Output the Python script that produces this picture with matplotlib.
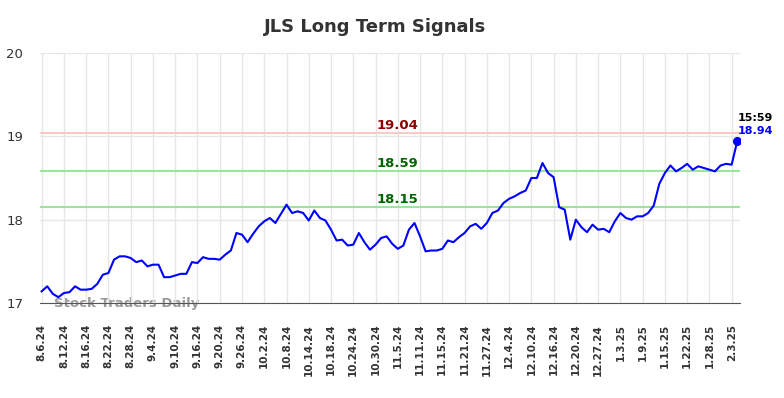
import numpy as np
import matplotlib
matplotlib.use("Agg")
import matplotlib.pyplot as plt

# closing prices, one per trading day (last one is the 15:59 quote)
prices = [17.14, 17.20, 17.11, 17.07, 17.12, 17.13, 17.20, 17.16, 17.16, 17.17,
          17.23, 17.34, 17.36, 17.52, 17.56, 17.56, 17.54, 17.49, 17.51, 17.44,
          17.46, 17.46, 17.31, 17.31, 17.33, 17.35, 17.35, 17.49, 17.48, 17.55,
          17.53, 17.53, 17.52, 17.58, 17.63, 17.84, 17.82, 17.73, 17.83, 17.92,
          17.98, 18.02, 17.96, 18.07, 18.18, 18.08, 18.10, 18.08, 17.99, 18.11,
          18.02, 17.99, 17.88, 17.75, 17.76, 17.69, 17.70, 17.84, 17.73, 17.64,
          17.70, 17.78, 17.80, 17.71, 17.65, 17.69, 17.88, 17.96, 17.80, 17.62,
          17.63, 17.63, 17.65, 17.75, 17.73, 17.79, 17.84, 17.92, 17.95, 17.89,
          17.96, 18.08, 18.11, 18.20, 18.25, 18.28, 18.32, 18.35, 18.50, 18.50,
          18.68, 18.56, 18.51, 18.15, 18.12, 17.76, 18.00, 17.91, 17.85, 17.94,
          17.88, 17.89, 17.85, 17.98, 18.08, 18.02, 18.00, 18.04, 18.04, 18.08,
          18.17, 18.43, 18.56, 18.65, 18.58, 18.62, 18.67, 18.60, 18.64, 18.62,
          18.60, 18.58, 18.65, 18.67, 18.66, 18.94]

tick_labels = ["8.6.24", "8.12.24", "8.16.24", "8.22.24", "8.28.24", "9.4.24",
               "9.10.24", "9.16.24", "9.20.24", "9.26.24", "10.2.24", "10.8.24",
               "10.14.24", "10.18.24", "10.24.24", "10.30.24", "11.5.24", "11.11.24",
               "11.15.24", "11.21.24", "11.27.24", "12.4.24", "12.10.24", "12.16.24",
               "12.20.24", "12.27.24", "1.3.25", "1.9.25", "1.15.25", "1.22.25",
               "1.28.25", "2.3.25"]
tick_step = 4

resistance = 19.04
mid_level = 18.59
support = 18.15
last_time = "15:59"

x = np.arange(len(prices))

fig = plt.figure(figsize=(7.84, 3.98), dpi=100)
ax = fig.add_axes([40/784, 1-303/398, 700/784, 250/398])

ax.plot(x, prices, color="#0000ff", lw=1.5, zorder=3)
ax.plot(x[-1], prices[-1], "o", color="#0000ff", ms=5.5, zorder=4)

ax.axhline(resistance, color="#ffc8c8", lw=1.5, zorder=2)
ax.axhline(mid_level, color="#99e699", lw=1.5, zorder=2)
ax.axhline(support, color="#99e699", lw=1.5, zorder=2)

xc = 64
for lvl, col in [(resistance, "#8b0000"), (mid_level, "#006400"), (support, "#006400")]:
    ax.text(xc, lvl + 0.01, f"{lvl:.2f}", color=col, fontsize=9.5,
            fontweight="bold", ha="center", va="bottom")

ax.text(x[-1], prices[-1] + 0.06, f"{prices[-1]:.2f}", color="#0000ff", fontsize=8,
        fontweight="bold", ha="left", va="bottom")
ax.text(x[-1], prices[-1] + 0.22, last_time, color="black", fontsize=8,
        fontweight="bold", ha="left", va="bottom")

ax.text(2.3, 17.0, "Stock Traders Daily", color="#999999", fontsize=9.5,
        fontweight="bold", ha="left", va="center", zorder=1)

ax.set_xlim(-0.3, len(prices) - 0.5)
ax.set_ylim(17, 20)
ax.set_yticks([17, 18, 19, 20])
ax.set_xticks(np.arange(len(tick_labels)) * tick_step)
ax.set_xticklabels(tick_labels, rotation=90, fontsize=7.5, fontweight="bold", color="#333333")
ax.tick_params(axis="y", labelsize=9.5, colors="#333333", length=0, pad=12)
ax.tick_params(axis="x", length=0, pad=15)

ax.grid(True, color="#e6e6e6", lw=1, zorder=0)
for s in ["left", "right", "top"]:
    ax.spines[s].set_visible(False)
ax.spines["bottom"].set_color("#555555")

fig.text(375/784, 1-27/398, "JLS Long Term Signals", ha="center", va="center",
         fontsize=13, fontweight="bold", color="#333333")

fig.savefig("out.png", dpi=100)
